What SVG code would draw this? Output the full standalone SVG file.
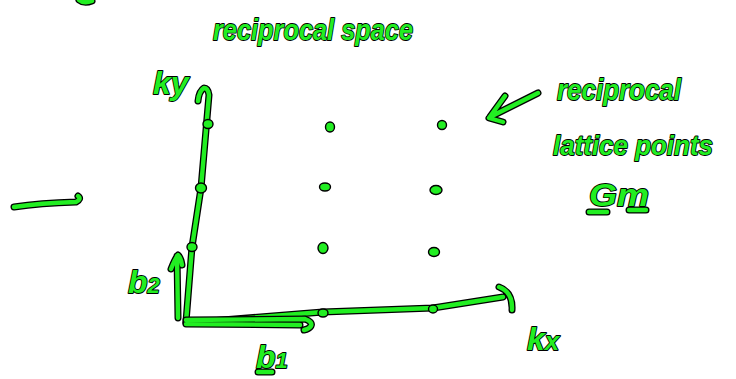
<svg xmlns="http://www.w3.org/2000/svg" xmlns:xlink="http://www.w3.org/1999/xlink" width="736" height="379" viewBox="0 0 736 379">
<style>
.o{fill:none;stroke:#000;stroke-width:7;stroke-linecap:round;stroke-linejoin:round}
.g{fill:none;stroke:#22ee22;stroke-width:4.4;stroke-linecap:round;stroke-linejoin:round}
.dot{fill:#22ee22;stroke:#000;stroke-width:1.4}
.t{font-family:"Liberation Sans",Arial,sans-serif;font-style:italic;font-weight:bold;fill:#22ee22;stroke:#000;stroke-width:1.8;paint-order:stroke;stroke-linejoin:round}
</style>
<defs>
<path id="pTop" d="M79,0 Q84,4 92,1"/>
<path id="pLeft" d="M14,207 Q40,203 76,202 Q82,199 78,196"/>
<path id="pKy" d="M186,322 L192,247 L201,188 L209,95 Q208,88 204,88 Q199,91 198,101"/>
<path id="pKx" d="M186,323 L323,312 L433,308 L503,297 M499,287 Q513,292 512,310"/>
<path id="pB1" d="M186,320 L305,319 Q313,322 311,326 Q309,329 304,330 M186,324 L300,325"/>
<path id="pB2" d="M178,318 L177,256 M171,269 Q175,259 178,255 Q181,258 182,265"/>
<path id="pPt" d="M538,93 L490,117 M505,96 L489,118 L503,122"/>
<path id="pU1" d="M589,212 L607,212"/>
<path id="pU2" d="M629,210 L646,210"/>
<path id="pU3" d="M258,372 L272,372"/>
</defs>
<g id="connectors">
<use xlink:href="#pTop" class="o"/><use xlink:href="#pTop" class="g"/>
<use xlink:href="#pLeft" class="o"/><use xlink:href="#pLeft" class="g"/>
<use xlink:href="#pKy" class="o"/><use xlink:href="#pKy" class="g"/>
<use xlink:href="#pKx" class="o"/><use xlink:href="#pKx" class="g"/>
<use xlink:href="#pB1" class="o"/><use xlink:href="#pB1" class="g"/>
<use xlink:href="#pB2" class="o"/><use xlink:href="#pB2" class="g"/>
<use xlink:href="#pPt" class="o"/><use xlink:href="#pPt" class="g"/>
<use xlink:href="#pU1" class="o"/><use xlink:href="#pU1" class="g"/>
<use xlink:href="#pU2" class="o"/><use xlink:href="#pU2" class="g"/>
<use xlink:href="#pU3" class="o"/><use xlink:href="#pU3" class="g"/>
</g>
<g id="lattice-points">
<ellipse class="dot" cx="208" cy="124" rx="5" ry="4.5"/>
<ellipse class="dot" cx="201" cy="188" rx="5.5" ry="5"/>
<ellipse class="dot" cx="192" cy="247" rx="5" ry="4.5"/>
<ellipse class="dot" cx="323" cy="313" rx="5" ry="4"/>
<ellipse class="dot" cx="433" cy="309" rx="4.5" ry="4"/>
<ellipse class="dot" cx="330" cy="127" rx="4.5" ry="5"/>
<ellipse class="dot" cx="442" cy="125" rx="4.5" ry="4.5"/>
<ellipse class="dot" cx="325" cy="187" rx="5.5" ry="4"/>
<ellipse class="dot" cx="436" cy="190" rx="6" ry="4.5"/>
<ellipse class="dot" cx="323" cy="248" rx="5" ry="5.5"/>
<ellipse class="dot" cx="434" cy="252" rx="5.5" ry="4.5"/>
</g>
<g id="title"><text class="t" x="213" y="40" font-size="30" textLength="200" lengthAdjust="spacingAndGlyphs">reciprocal space</text></g>
<g id="ky"><text class="t" x="153" y="94" font-size="32">ky</text></g>
<g id="label-points">
<text class="t" x="557" y="100" font-size="30" textLength="124" lengthAdjust="spacingAndGlyphs">reciprocal</text>
<text class="t" x="553" y="155" font-size="28" textLength="160" lengthAdjust="spacingAndGlyphs">lattice points</text>
<text class="t" x="589" y="206" font-size="32" textLength="60" lengthAdjust="spacingAndGlyphs">Gm</text>
</g>
<g id="b2"><text class="t" x="128" y="293" font-size="32">b<tspan font-size="22">2</tspan></text></g>
<g id="b1"><text class="t" x="256" y="368" font-size="32">b<tspan font-size="22">1</tspan></text></g>
<g id="kx"><text class="t" x="527" y="350" font-size="32">k<tspan font-size="26">x</tspan></text></g>
</svg>
